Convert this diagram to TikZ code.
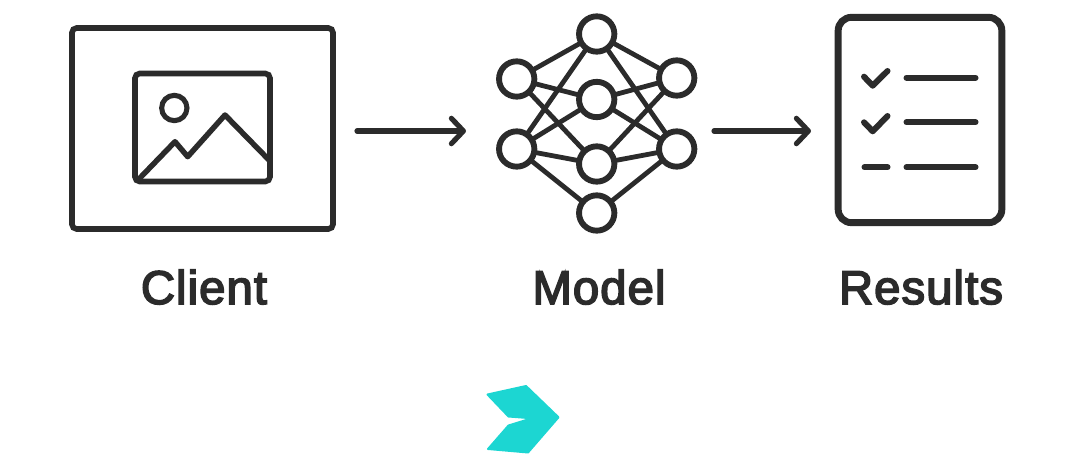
\documentclass[tikz,border=0pt]{standalone}
\usepackage{fontspec}
\usetikzlibrary{arrows.meta}
\newfontfamily\labfont[FakeBold=3.4,LetterSpace=2.2]{Liberation Sans}
\definecolor{ink}{HTML}{2B2B2B}
\definecolor{logoteal}{HTML}{1CD6D2}
\tikzset{
  x=0.75pt,y=-0.75pt,
  icon/.style={draw=ink,line width=4.1pt,line join=round,line cap=round},
  neuron/.style={circle,draw=ink,line width=4.4pt,fill=white,inner sep=0pt,outer sep=0pt,minimum size=26.5pt},
  synapse/.style={draw=ink,line width=3.6pt},
  framebox/.style={rectangle,draw=ink,line width=4.2pt,inner sep=0pt,outer sep=0pt,rounded corners=3.5pt,fill=white},
  listline/.style={draw=ink,line width=4.5pt,line cap=round,line join=round},
  flow/.style={draw=ink,line width=3.9pt,line cap=round,line join=round,-{Straight Barb[length=9pt,width=19pt,line width=3.9pt,round]}},
  lab/.style={text=ink,font=\labfont\fontsize{35.5pt}{37pt}\selectfont,inner sep=0pt,anchor=base}
}
\begin{document}
\begin{tikzpicture}
\useasboundingbox (0,0) rectangle (1080,459);
% Client frame
\node[framebox,minimum width=195.75pt,minimum height=150.75pt] (client) at (202.5,128.5) {};
\node[framebox,minimum width=101.25pt,minimum height=81pt] (photo) at (202.5,127.5) {};
\node[circle,draw=ink,line width=3.8pt,inner sep=0pt,outer sep=0pt,minimum size=19pt] (sun) at (174.3,108) {};
\draw[icon] (138,180) -- (175,141.7) -- (187.7,156.7) -- (225,115) -- (269,160);
% Model
\node[neuron] (top) at (596.7,34) {};
\node[neuron] (lu) at (516.7,79) {};
\node[neuron] (ll) at (516.7,149) {};
\node[neuron] (m1) at (596.7,99.5) {};
\node[neuron] (m2) at (596.7,164) {};
\node[neuron] (bot) at (596.7,213) {};
\node[neuron] (ru) at (676.7,78) {};
\node[neuron] (rl) at (676.7,149) {};
\foreach \a/\b in {top/lu,top/ll,top/ru,top/rl,lu/m1,lu/m2,ll/m1,ll/m2,ll/bot,ru/m1,ru/m2,rl/m1,rl/m2,rl/bot}
  \draw[synapse] (\a) -- (\b);
% Results
\node[framebox,line width=5.2pt,rounded corners=10pt,minimum width=122.75pt,minimum height=154pt] (doc) at (920,120) {};
\draw[listline] (864,76.7) -- (872.7,85.7) -- (887.5,71);
\draw[listline] (864,122.3) -- (872.7,131.3) -- (887.5,116);
\draw[listline] (864.5,167.3) -- (887.5,167.3);
\draw[listline] (906.5,77.7) -- (975.5,77.7);
\draw[listline] (906.5,122.3) -- (975.5,122.3);
\draw[listline] (906.5,167.3) -- (975.5,167.3);
% Arrows
\coordinate (a1s) at (357,131);
\coordinate (a1e) at (466,131);
\coordinate (a2s) at (714,131);
\coordinate (a2e) at (811,131);
\draw[flow] (a1s) -- (a1e);
\draw[flow] (a2s) -- (a2e);
% Labels
\node[lab] (lclient) at (204,304) {Client};
\node[lab] (lmodel) at (599,304) {Model};
\node[lab] (lresults) at (921,304) {Results};
% Logo
\fill[logoteal,draw=logoteal,line width=1.5pt,line join=round] (487.5,394.5) -- (526,386) -- (558.5,417.3) -- (528,452.5) -- (488,449) -- (508.5,425.5) -- (531.7,418.3) -- (508.5,416.5) -- cycle;
\end{tikzpicture}
\end{document}
